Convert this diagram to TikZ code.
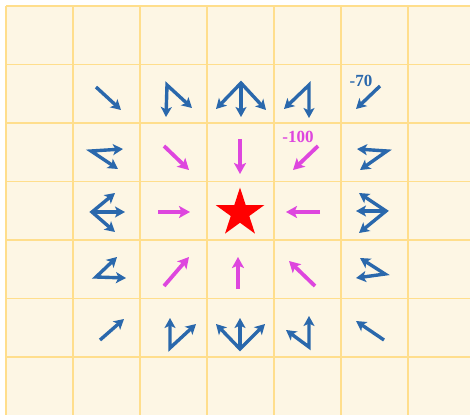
\documentclass[tikz,border=0pt]{standalone}
\usepackage{fontspec}
\setmainfont{Liberation Serif}
\usetikzlibrary{arrows.meta,shapes.geometric}
\definecolor{cellcol}{RGB}{253,246,228}
\definecolor{gridcol}{RGB}{255,222,140}
\definecolor{bluecol}{RGB}{42,104,172}
\definecolor{magcol}{RGB}{222,70,222}

\begin{document}
\begin{tikzpicture}[x=1pt,y=-1pt,
  blu/.style={bluecol,line width=3.4pt,-{Stealth[length=10pt,width=11pt,inset=2.5pt]}},
  blu2/.style={bluecol,line width=3.4pt,{Stealth[length=10pt,width=11pt,inset=2.5pt]}-{Stealth[length=10pt,width=11pt,inset=2.5pt]}},
  mag/.style={magcol,line width=3.8pt,-{Stealth[length=11pt,width=12pt,inset=2.5pt]}},
  lab/.style={font=\fontsize{17}{17}\selectfont\bfseries,inner sep=0pt}]
  \useasboundingbox (0,0) rectangle (470,415);
  % the board
  \fill[cellcol] (6,6) rectangle (470,415);
  \foreach \i in {0,...,6}{
    \draw[gridcol,line width=1.3pt] (6+67*\i,6) -- (6+67*\i,415);
    \draw[gridcol,line width=1.3pt] (6,6+58.5*\i) -- (470,6+58.5*\i);}
  % row 1
  \draw[blu] (96,87) -- (121,110);
  \draw[blu2] (166,117) -- (167,85) -- (192,108);
  \draw[blu2] (216,109) -- (241,83) -- (266,110);
  \draw[blu] (241,84) -- (241,117);
  \draw[blu2] (284,109) -- (309,85) -- (309,118);
  \draw[blu] (380,86) -- (356,109);
  \node[lab,bluecol] (v70) at (361,81) {-70};
  % row 2
  \draw[blu2] (123,149) -- (91,151) -- (118,169);
  \draw[mag] (164,146) -- (189,170);
  \draw[mag] (240,139) -- (240,174);
  \draw[mag] (318,146) -- (293,170);
  \node[lab,magcol] (v100) at (298,137) {-100};
  \draw[blu2] (357,149) -- (387,151) -- (360,170);
  % row 3
  \draw[blu2] (115,193) -- (92,212) -- (115,232);
  \draw[blu] (92,212) -- (125,212);
  \draw[mag] (158,212) -- (190,212);
  \node[star,star points=5,star point ratio=2.618,minimum size=51pt,
        inner sep=0pt,fill=red] (goal) at (240,213) {};
  \draw[mag] (320,212) -- (286,212);
  \draw[blu2] (359,193) -- (386,211) -- (359,233);
  \draw[blu] (386,211) -- (356,211);
  % row 4
  \draw[blu2] (117,257) -- (96,277) -- (126,278);
  \draw[mag] (164,286) -- (189,257);
  \draw[mag] (238,289) -- (238,257);
  \draw[mag] (315,286) -- (289,261);
  \draw[blu2] (360,258) -- (385,274) -- (356,278);
  % row 5
  \draw[blu] (100,340) -- (124,319);
  \draw[blu2] (170,318) -- (170,348) -- (196,324);
  \draw[blu2] (216,324) -- (240,349) -- (265,324);
  \draw[blu] (240,348) -- (240,318);
  \draw[blu2] (286,330) -- (309,347) -- (309,316);
  \draw[blu] (384,340) -- (356,321);
\end{tikzpicture}
\end{document}
